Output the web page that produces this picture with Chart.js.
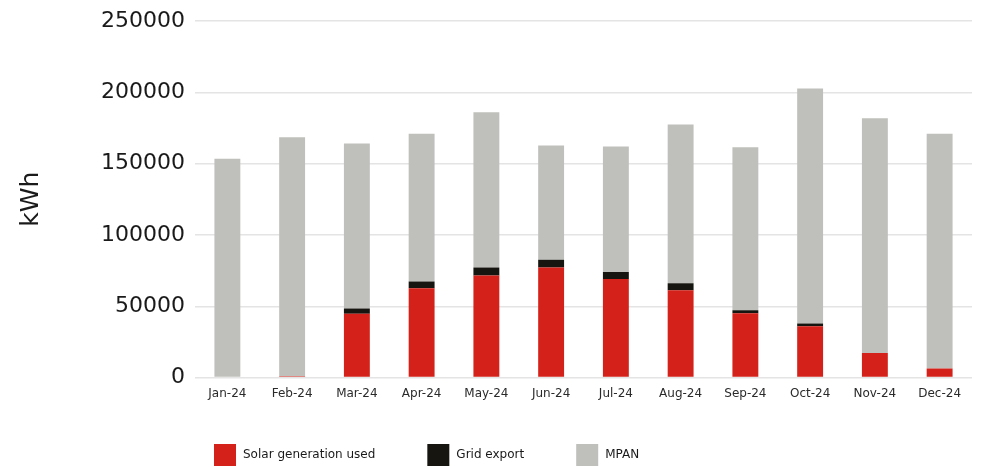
<!DOCTYPE html>
<html>
<head>
<meta charset="utf-8">
<script src="https://cdn.jsdelivr.net/npm/chart.js@4.4.0/dist/chart.umd.min.js"></script>
<style>
    html, body { margin: 0; padding: 0; background: #ffffff; }
    #wrap { width: 981px; height: 467px; position: relative; }
</style>
</head>
<body>
<div id="wrap"><canvas id="energyChart"></canvas></div>
<script>
// Monthly site energy, kWh
const months = ['Jan-24', 'Feb-24', 'Mar-24', 'Apr-24', 'May-24', 'Jun-24',
                'Jul-24', 'Aug-24', 'Sep-24', 'Oct-24', 'Nov-24', 'Dec-24'];
const solarUsed  = [0, 1000, 44700, 62600, 71500, 77100, 69200, 61200, 45100, 36000, 17300, 6300];
const gridExport = [0, 0, 3700, 4700, 5600, 5600, 4900, 4900, 2100, 1900, 0, 0];
const mpan       = [153500, 167500, 115700, 103600, 108900, 80000, 87900, 111300, 114300, 164800, 164500, 164600];
const yTicks     = [0, 50000, 100000, 150000, 200000, 250000];

const FONT = "'DejaVu Sans', sans-serif";

// Legend row drawn under the axis: square swatch, then label, fixed gap between items
const legendRow = {
    id: 'legendRow',
    afterDraw(chart) {
        const ctx = chart.ctx;
        const box = 22;
        const gap = 52;
        let x = chart.chartArea.left + 19;
        const y = 444;
        ctx.save();
        ctx.font = '12px ' + FONT;
        ctx.textBaseline = 'middle';
        chart.data.datasets.forEach(ds => {
            ctx.fillStyle = ds.backgroundColor;
            ctx.fillRect(x, y, box, box);
            ctx.fillStyle = '#1a1a1a';
            const tx = x + box + 7;
            ctx.fillText(ds.label, tx, y + 11);
            x = tx + ctx.measureText(ds.label).width + gap;
        });
        ctx.restore();
    }
};

new Chart(document.getElementById('energyChart'), {
    type: 'bar',
    data: {
        labels: months,
        datasets: [
            { label: 'Solar generation used', data: solarUsed, backgroundColor: '#d4221a', stack: 's' },
            { label: 'Grid export', data: gridExport, backgroundColor: '#16150f', stack: 's' },
            { label: 'MPAN', data: mpan, backgroundColor: '#bfc0bb', stack: 's' }
        ]
    },
    options: {
        responsive: true,
        maintainAspectRatio: false,
        animation: false,
        datasets: {
            bar: { categoryPercentage: 0.8, barPercentage: 0.5 }
        },
        layout: {
            padding: { top: 6, right: 9, bottom: 65, left: 0 }
        },
        plugins: {
            legend: { display: false },
            tooltip: { enabled: false }
        },
        scales: {
            x: {
                stacked: true,
                grid: { display: false },
                border: { display: false },
                ticks: {
                    color: '#2a2a2a',
                    padding: 1,
                    maxRotation: 0,
                    font: { family: FONT, size: 12 }
                }
            },
            y: {
                stacked: true,
                min: 0,
                max: 250000,
                afterBuildTicks(scale) {
                    scale.ticks = yTicks.map(v => ({ value: v }));
                },
                afterFit(scale) {
                    scale.width = 195;
                },
                grid: { color: '#e4e4e4', lineWidth: 1.5, drawTicks: false },
                border: { display: false },
                ticks: {
                    color: '#1a1a1a',
                    padding: 10,
                    font: { family: FONT, size: 22, lineHeight: 1 },
                    callback: v => String(v)
                },
                title: {
                    display: true,
                    text: 'kWh',
                    color: '#1a1a1a',
                    padding: { top: 16, bottom: 0 },
                    font: { family: FONT, size: 25 }
                }
            }
        }
    },
    plugins: [legendRow]
});
</script>
</body>
</html>
